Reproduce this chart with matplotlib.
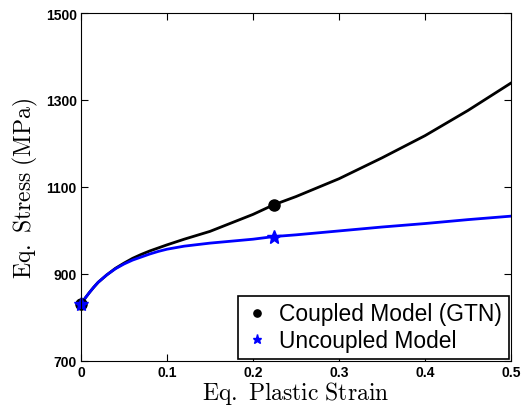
import matplotlib.pyplot as plt

plt.rcParams['mathtext.fontset'] = 'cm'

# valeurs
strain = [0.0, 0.005, 0.01, 0.015, 0.02, 0.03, 0.04, 0.05, 0.06, 0.07, 0.08, 0.09,
          0.1, 0.12, 0.15, 0.2, 0.224, 0.25, 0.3, 0.35, 0.4, 0.45, 0.5]
stress_coupled = [830, 845, 858, 870, 881, 898, 913, 925, 936, 945, 953, 960,
                  967, 980, 998, 1037, 1059, 1078, 1119, 1167, 1218, 1276, 1339]
stress_uncoupled = [830, 845, 858, 870, 881, 898, 912, 923, 932, 939, 946, 952,
                    957, 964, 971, 980, 986, 990, 999, 1008, 1016, 1025, 1033]

mark_strain = [0.0, 0.224]
mark_coupled = [830, 1059]
mark_uncoupled = [830, 986]

fig = plt.figure(figsize=(5.21, 4.10), dpi=100)
ax = fig.add_axes([81 / 521, 48 / 410, 430 / 521, 348 / 410])

ax.plot(strain, stress_coupled, color='black', lw=2)
ax.plot(strain, stress_uncoupled, color='blue', lw=2)
ax.plot(mark_strain, mark_coupled, 'o', color='black', ms=8, clip_on=False,
        label='Coupled Model (GTN)')
ax.plot(mark_strain, mark_uncoupled, '*', color='blue', ms=10, clip_on=False,
        label='Uncoupled Model')

ax.set_xlim(0, 0.5)
ax.set_ylim(700, 1500)
ax.set_xticks([0, 0.1, 0.2, 0.3, 0.4, 0.5])
ax.set_xticklabels(['0', '0.1', '0.2', '0.3', '0.4', '0.5'])
ax.set_yticks([700, 900, 1100, 1300, 1500])
ax.tick_params(direction='in', top=True, right=True, length=5, pad=3)
for lab in ax.get_xticklabels() + ax.get_yticklabels():
    lab.set_fontfamily('Liberation Sans')
    lab.set_fontweight('bold')
    lab.set_fontsize(10)

ax.set_xlabel(r'$\mathrm{Eq.\ Plastic\ Strain}$', fontsize=17, labelpad=0)
ax.set_ylabel(r'$\mathrm{Eq.\ Stress\ (MPa)}$', fontsize=17, labelpad=4)

leg = ax.legend(loc='lower right', prop={'family': 'Liberation Sans', 'size': 16.4},
                fancybox=False, edgecolor='black', framealpha=1, markerscale=0.65,
                borderaxespad=0.1, handletextpad=0.4, handlelength=1.1,
                borderpad=0.3, labelspacing=0.15)
leg.get_frame().set_linewidth(1.2)

fig.savefig('out.png', dpi=100)
